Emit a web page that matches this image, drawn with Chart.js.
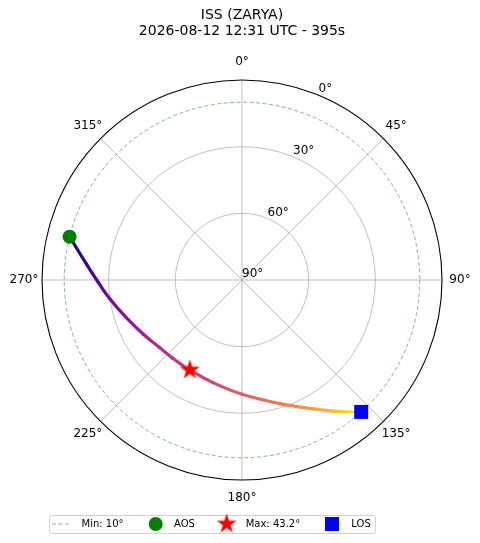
<!DOCTYPE html>
<html>
<head>
<meta charset="utf-8">
<script src="https://cdn.jsdelivr.net/npm/chart.js@4.4.1/dist/chart.umd.min.js"></script>
<style>
  html, body { margin: 0; padding: 0; background: #fff; }
  canvas { display: block; }
</style>
</head>
<body>
<canvas id="myChart" width="480" height="543"></canvas>
<script>
const satName = "ISS (ZARYA)";
const passStart = "2026-08-12 12:31 UTC";
const passDuration = 395;
const minElev = 10;

// pass track: azimuth (deg from N, clockwise), elevation (deg), seconds since AOS
const trackAz   = [284.1, 275.9, 269.5, 261.9, 251.8, 241.4, 230.5, 221.6, 210.1, 195.8, 180.0, 162.9, 151.0, 143.3, 137.9];
const trackEl   = [10.0, 19.6, 25.0, 29.9, 35.3, 39.3, 42.1, 43.0, 43.2, 42.0, 38.6, 31.8, 23.7, 16.1, 10.0];
const trackTime = [0, 30, 62, 95, 118, 140, 160, 170, 182, 202, 227, 266, 305, 344, 395];

const maxAz = 210.1;
const maxEl = 43.2;

const azTicks = [0, 45, 90, 135, 180, 225, 270, 315];
const elTicks = [0, 30, 60, 90];
const gridElev = [60, 30];

// plasma colormap stops
const plasma = ['#0d0887', '#4c02a1', '#7e03a8', '#a92395', '#cc4778', '#e66c5c', '#f89540', '#fdc527', '#f0f921'];

function hexToRgb(h) {
    return [parseInt(h.substr(1, 2), 16), parseInt(h.substr(3, 2), 16), parseInt(h.substr(5, 2), 16)];
}
function plasmaColor(t) {
    t = Math.max(0, Math.min(1, t));
    let pos = t * (plasma.length - 1);
    let i = Math.min(Math.floor(pos), plasma.length - 2);
    let f = pos - i;
    let a = hexToRgb(plasma[i]), b = hexToRgb(plasma[i + 1]);
    let c = a.map((v, k) => Math.round(v + (b[k] - v) * f));
    return 'rgb(' + c.join(',') + ')';
}

// polar (az, el) -> x/y on a plane where r = 90 - el
function toXY(az, el) {
    let r = 90 - el;
    let a = az * Math.PI / 180;
    return { x: r * Math.sin(a), y: r * Math.cos(a) };
}

function makeStar(R, color) {
    let c = document.createElement('canvas');
    let s = Math.ceil(R * 2 + 2);
    c.width = s; c.height = s;
    let g = c.getContext('2d');
    g.fillStyle = color;
    g.beginPath();
    for (let i = 0; i < 10; i++) {
        let rr = i % 2 ? R * 0.39 : R;
        let a = -Math.PI / 2 + i * Math.PI / 5;
        g.lineTo(s / 2 + rr * Math.cos(a), s / 2 + rr * Math.sin(a));
    }
    g.closePath();
    g.fill();
    return c;
}
const starImg = makeStar(10.5, '#ff0000');

const trackPoints = trackAz.map((a, i) => toXY(a, trackEl[i]));
const aosPoint = toXY(trackAz[0], trackEl[0]);
const losPoint = toXY(trackAz[trackAz.length - 1], trackEl[trackEl.length - 1]);
const maxPoint = toXY(maxAz, maxEl);

const minDash = [4, 2.5];
const minColor = 'rgba(0,128,0,0.5)';

const polarGrid = {
    id: 'polarGrid',
    beforeDatasetsDraw(chart) {
        const ctx = chart.ctx;
        const x = chart.scales.x, y = chart.scales.y;
        const cx = x.getPixelForValue(0), cy = y.getPixelForValue(0);
        const rad = r => x.getPixelForValue(r) - cx;
        const R = rad(90);
        ctx.save();
        ctx.strokeStyle = '#b0b0b0';
        ctx.lineWidth = 0.8;
        azTicks.forEach(a => {
            let t = a * Math.PI / 180;
            ctx.beginPath();
            ctx.moveTo(cx, cy);
            ctx.lineTo(cx + R * Math.sin(t), cy - R * Math.cos(t));
            ctx.stroke();
        });
        gridElev.forEach(e => {
            ctx.beginPath();
            ctx.arc(cx, cy, rad(90 - e), 0, Math.PI * 2);
            ctx.stroke();
        });
        // minimum elevation
        ctx.strokeStyle = minColor;
        ctx.lineWidth = 1;
        ctx.setLineDash(minDash);
        ctx.beginPath();
        ctx.arc(cx, cy, rad(90 - minElev), 0, Math.PI * 2);
        ctx.stroke();
        ctx.setLineDash([]);
        // outline
        ctx.strokeStyle = '#000';
        ctx.lineWidth = 1.1;
        ctx.beginPath();
        ctx.arc(cx, cy, R, 0, Math.PI * 2);
        ctx.stroke();

        ctx.fillStyle = '#000';
        ctx.font = '12px "DejaVu Sans"';
        ctx.textAlign = 'center';
        ctx.textBaseline = 'middle';
        azTicks.forEach(a => {
            let t = a * Math.PI / 180;
            let L = R * 1.09;
            ctx.fillText(a + '°', cx + L * Math.sin(t), cy - L * Math.cos(t));
        });
        ctx.textAlign = 'left';
        ctx.textBaseline = 'bottom';
        let lt = 22.5 * Math.PI / 180;
        elTicks.forEach(e => {
            let r = rad(90 - e);
            ctx.fillText(e + '°', cx + r * Math.sin(lt), cy - r * Math.cos(lt));
        });
        ctx.restore();
    }
};

const passLegend = {
    id: 'passLegend',
    afterDraw(chart) {
        const ctx = chart.ctx;
        const yc = 524;
        ctx.save();
        ctx.fillStyle = 'rgba(255,255,255,0.8)';
        ctx.strokeStyle = '#d0d0d0';
        ctx.lineWidth = 1;
        ctx.beginPath();
        ctx.roundRect(49.5, 515.5, 326, 18, 2);
        ctx.fill();
        ctx.stroke();

        ctx.strokeStyle = minColor;
        ctx.setLineDash(minDash);
        ctx.beginPath();
        ctx.moveTo(52, yc);
        ctx.lineTo(70, yc);
        ctx.stroke();
        ctx.setLineDash([]);

        ctx.fillStyle = '#008000';
        ctx.beginPath();
        ctx.arc(155.7, yc, 7, 0, Math.PI * 2);
        ctx.fill();

        ctx.drawImage(starImg, 226.7 - starImg.width / 2, yc - starImg.height / 2);

        ctx.fillStyle = '#0000ff';
        ctx.fillRect(325, yc - 7, 14, 14);

        ctx.fillStyle = '#000';
        ctx.font = '10px "DejaVu Sans"';
        ctx.textAlign = 'left';
        ctx.textBaseline = 'middle';
        ctx.fillText('Min: ' + minElev + '°', 81.5, yc);
        ctx.fillText('AOS', 174, yc);
        ctx.fillText('Max: ' + maxEl + '°', 245.7, yc);
        ctx.fillText('LOS', 351.3, yc);
        ctx.restore();
    }
};

Chart.defaults.font.family = '"DejaVu Sans", sans-serif';
Chart.defaults.color = '#000';

const ctx = document.getElementById('myChart');
new Chart(ctx, {
    type: 'scatter',
    data: {
        datasets: [
            {
                label: 'AOS',
                data: [aosPoint],
                pointStyle: 'circle',
                pointRadius: 7,
                backgroundColor: '#008000',
                borderColor: '#008000',
                borderWidth: 0
            },
            {
                label: 'Max: ' + maxEl + '°',
                data: [maxPoint],
                pointStyle: starImg,
                pointRadius: 10
            },
            {
                label: 'LOS',
                data: [losPoint],
                pointStyle: 'rect',
                pointRadius: 9.9,
                backgroundColor: '#0000ff',
                borderColor: '#0000ff',
                borderWidth: 0
            },
            {
                label: 'track',
                data: trackPoints,
                showLine: true,
                pointRadius: 0,
                borderWidth: 3.2,
                borderCapStyle: 'round',
                tension: 0.4,
                segment: {
                    borderColor: c => {
                        const g = c.chart.ctx.createLinearGradient(c.p0.x, c.p0.y, c.p1.x, c.p1.y);
                        g.addColorStop(0, plasmaColor(trackTime[c.p0DataIndex] / passDuration));
                        g.addColorStop(1, plasmaColor(trackTime[c.p1DataIndex] / passDuration));
                        return g;
                    }
                }
            }
        ]
    },
    options: {
        responsive: false,
        animation: false,
        layout: { padding: { left: 42, right: 38, top: 0, bottom: 63 } },
        scales: {
            x: { type: 'linear', min: -90, max: 90, display: false },
            y: { type: 'linear', min: -90, max: 90, display: false }
        },
        plugins: {
            legend: { display: false },
            tooltip: { enabled: false },
            title: {
                display: true,
                text: [satName, passStart + ' - ' + passDuration + 's'],
                color: '#000',
                font: { size: 14, weight: 'normal', lineHeight: 1.2 },
                padding: { top: 6.6, bottom: 39.8 }
            }
        }
    },
    plugins: [polarGrid, passLegend]
});
</script>
</body>
</html>
